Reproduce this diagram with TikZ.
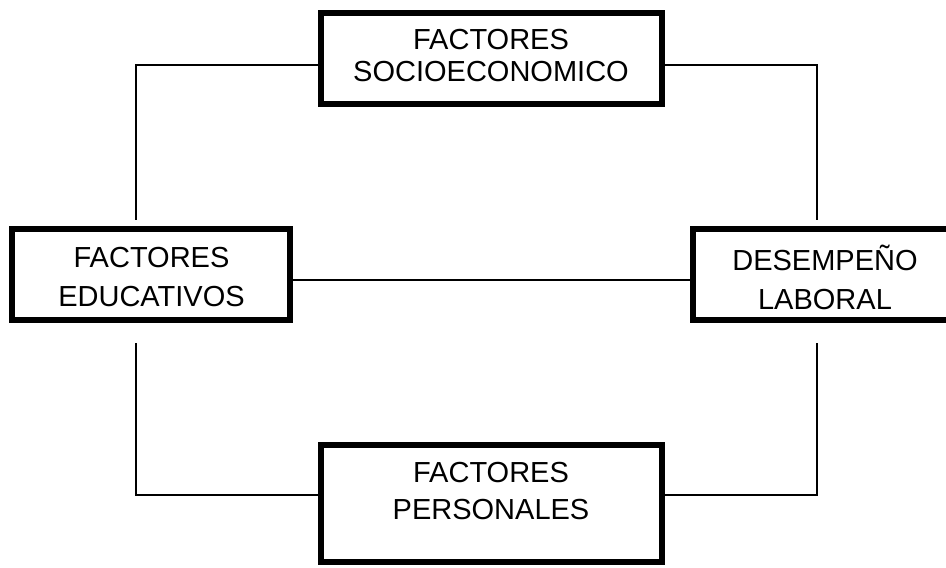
\documentclass[tikz,border=0pt]{standalone}
\usepackage{fontspec}
\setmainfont{Liberation Sans}
\begin{document}
\begin{tikzpicture}[x=0.5pt,y=-0.5pt,
  box/.style={draw=black,line width=3pt,rectangle,inner sep=0pt,fill=white},
  lbl/.style={align=center,inner sep=0pt},
  conn/.style={draw=black,line width=0.75pt}]
\clip (0,0) rectangle (946,567);
\fill[white] (0,0) rectangle (946,567);
% boxes
\node[box,minimum width=170.5pt,minimum height=45.5pt] (top) at (491.5,58.5) {};
\node[box,minimum width=139pt,minimum height=45.5pt] (left) at (151,274.5) {};
\node[box,minimum width=132pt,minimum height=45.5pt] (right) at (825,274.5) {};
\node[box,minimum width=170.5pt,minimum height=58.5pt] (bottom) at (491.5,503.5) {};
% labels
\node[lbl,font=\fontsize{14.5}{16}\selectfont] (ttop) at (491,56) {FACTORES\\SOCIOECONOMICO};
\node[lbl,font=\fontsize{14.5}{19.5}\selectfont] (tleft) at (151.5,277.5) {FACTORES\\EDUCATIVOS};
\node[lbl,font=\fontsize{14.5}{19.5}\selectfont] (tright) at (825,277.5) {DESEMPEÑO\\LABORAL};
\node[lbl,font=\fontsize{14.5}{18.25}\selectfont] (tbottom) at (491,491) {FACTORES\\PERSONALES};
% connector end points
\coordinate (tlend) at (136,220);
\coordinate (trend) at (817,220);
\coordinate (blend) at (136,343);
\coordinate (brend) at (817,343);
% connectors
\draw[conn] (top.west |- 0,65) -| (tlend);
\draw[conn] (top.east |- 0,65) -| (trend);
\draw[conn] (left.east |- 0,280) -- (right.west |- 0,280);
\draw[conn] (blend) |- (bottom.west |- 0,495);
\draw[conn] (brend) |- (bottom.east |- 0,495);
\end{tikzpicture}
\end{document}
